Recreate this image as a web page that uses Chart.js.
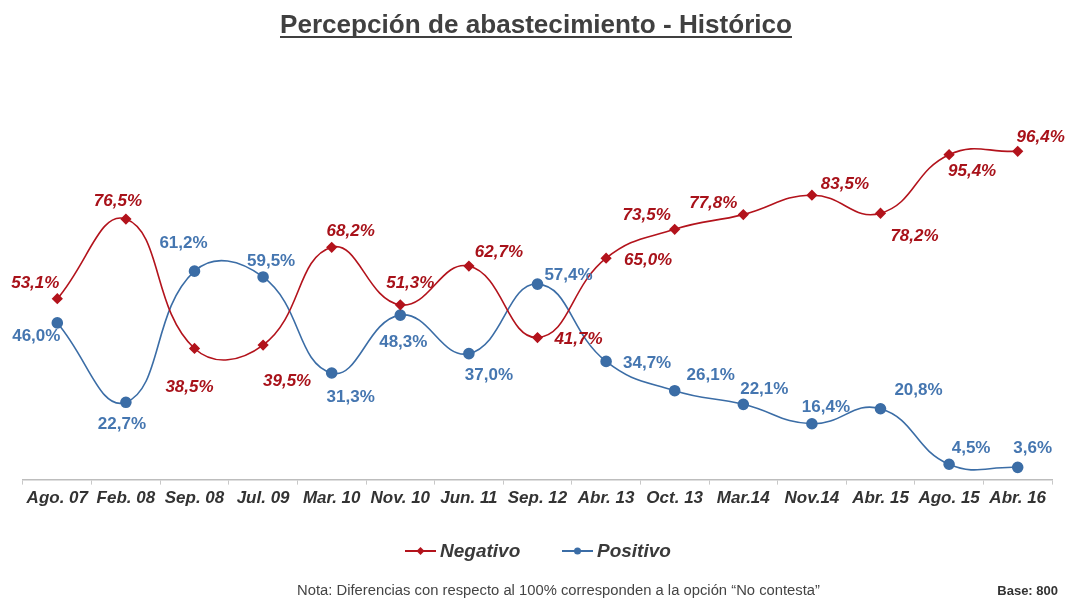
<!DOCTYPE html>
<html><head><meta charset="utf-8">
<script src="https://cdn.jsdelivr.net/npm/chart.js@4/dist/chart.umd.min.js"></script>
<style>html,body{margin:0;padding:0;background:#fff;overflow:hidden}</style>
</head><body>
<canvas id="c" width="1066" height="599"></canvas>
<script>
const categories = ['Ago. 07','Feb. 08','Sep. 08','Jul. 09','Mar. 10','Nov. 10','Jun. 11','Sep. 12','Abr. 13','Oct. 13','Mar.14','Nov.14','Abr. 15','Ago. 15','Abr. 16'];
const negativo = [53.1,76.5,38.5,39.5,68.2,51.3,62.7,41.7,65.0,73.5,77.8,83.5,78.2,95.4,96.4];
const positivo = [46.0,22.7,61.2,59.5,31.3,48.3,37.0,57.4,34.7,26.1,22.1,16.4,20.8,4.5,3.6];
const seriesNames = ['Negativo','Positivo'];
const titleText = 'Percepción de abastecimiento - Histórico';
const noteText = 'Nota: Diferencias con respecto al 100% corresponden a la opción “No contesta”';
const baseText = 'Base: 800';

// label placement offsets relative to each point (layout only)
const negOffsets = [[-22,-15],[-8,-18],[-5,39],[24,36],[19,-16],[10,-22],[30,-14],[41,2],[42,2],[-28,-14],[-30,-11],[33,-11],[34,23],[23,17],[23,-14]];
const posOffsets = [[-21,13],[-4,22],[-11,-28],[8,-16],[19,24],[3,27],[20,22],[31,-9],[41,2],[36,-15],[21,-15],[14,-16],[38,-18],[22,-16],[15,-19]];

const NEG = '#B3131C', NEG_TXT = '#A8121A';
const POS = '#3B6DA6', POS_TXT = '#4576B0';
const FONT = '"Liberation Sans", Arial, sans-serif';

function fmt(v){ return v.toFixed(1).replace('.', ',') + '%'; }

const labelsPlugin = {
  id: 'pointLabels',
  afterDatasetsDraw(chart){
    const ctx = chart.ctx;
    const cfg = [
      {offs: negOffsets, color: NEG_TXT, font: 'italic bold 17px ' + FONT},
      {offs: posOffsets, color: POS_TXT, font: 'bold 17px ' + FONT}
    ];
    chart.data.datasets.forEach((ds, di) => {
      const meta = chart.getDatasetMeta(di);
      ctx.save();
      ctx.font = cfg[di].font;
      ctx.fillStyle = cfg[di].color;
      ctx.textAlign = 'center';
      ctx.textBaseline = 'middle';
      meta.data.forEach((pt, i) => {
        const o = cfg[di].offs[i];
        ctx.fillText(fmt(ds.data[i]), pt.x + o[0], pt.y + o[1]);
      });
      ctx.restore();
    });
  }
};

const decorPlugin = {
  id: 'decor',
  afterDraw(chart){
    const ctx = chart.ctx;
    ctx.save();
    // title
    ctx.font = 'bold 25px ' + FONT;
    ctx.fillStyle = '#404040';
    ctx.textAlign = 'left';
    ctx.textBaseline = 'alphabetic';
    const tw = ctx.measureText(titleText).width;
    ctx.save();
    ctx.translate(280, 33);
    ctx.scale(512 / tw, 1);
    ctx.fillText(titleText, 0, 0);
    ctx.restore();
    ctx.fillRect(280, 36, 512, 2);

    // legend
    const items = [
      {x: 405, color: NEG, style: 'diamond'},
      {x: 562, color: POS, style: 'circle'}
    ];
    const ly = 551;
    chart.data.datasets.forEach((ds, i) => {
      const it = items[i];
      ctx.strokeStyle = it.color;
      ctx.lineWidth = 2;
      ctx.beginPath(); ctx.moveTo(it.x, ly); ctx.lineTo(it.x + 31, ly); ctx.stroke();
      ctx.fillStyle = it.color;
      const cx = it.x + 15.5;
      ctx.beginPath();
      if (it.style === 'diamond') {
        ctx.moveTo(cx, ly-4); ctx.lineTo(cx+4, ly); ctx.lineTo(cx, ly+4); ctx.lineTo(cx-4, ly);
      } else {
        ctx.arc(cx, ly, 3.5, 0, Math.PI*2);
      }
      ctx.closePath(); ctx.fill();
      ctx.font = 'italic bold 19px ' + FONT;
      ctx.fillStyle = '#3a3a3a';
      ctx.textAlign = 'left';
      ctx.textBaseline = 'middle';
      ctx.fillText(ds.label, it.x + 35, ly + 1);
    });

    // footnote
    ctx.font = '13px ' + FONT;
    ctx.fillStyle = '#444';
    ctx.textAlign = 'left';
    ctx.textBaseline = 'middle';
    const nw = ctx.measureText(noteText).width;
    ctx.save();
    ctx.translate(297, 591);
    ctx.scale(523 / nw, 1.08);
    ctx.fillText(noteText, 0, 0);
    ctx.restore();
    ctx.font = 'bold 13px ' + FONT;
    ctx.fillStyle = '#333';
    ctx.textAlign = 'right';
    ctx.fillText(baseText, 1058, 591);
    ctx.restore();
  }
};

new Chart(document.getElementById('c'), {
  type: 'line',
  data: {
    labels: categories,
    datasets: [
      {label: seriesNames[0], data: negativo, borderColor: NEG, backgroundColor: NEG,
       borderWidth: 1.6, tension: 0.45, pointStyle: 'rectRot', pointRadius: 4.5, pointHoverRadius: 4.5, clip: false},
      {label: seriesNames[1], data: positivo, borderColor: POS, backgroundColor: POS,
       borderWidth: 1.6, tension: 0.45, pointStyle: 'circle', pointRadius: 5, pointHoverRadius: 5, clip: false}
    ]
  },
  options: {
    responsive: false,
    devicePixelRatio: 1,
    animation: false,
    events: [],
    layout: {padding: {left: 23, right: 14, top: 139, bottom: 86}},
    plugins: {legend: {display: false}, title: {display: false}, tooltip: {enabled: false}},
    scales: {
      x: {
        offset: true,
        grid: {display: true, drawOnChartArea: false, drawTicks: true, tickLength: 5, color: '#c8c8c8', offset: true},
        border: {display: true, color: '#bdbdbd', width: 1.5},
        ticks: {color: '#333', font: {family: FONT, size: 17, weight: 'bold', style: 'italic'}, padding: 4, maxRotation: 0, autoSkip: false}
      },
      y: {display: false, min: 0, max: 100}
    }
  },
  plugins: [labelsPlugin, decorPlugin]
});
</script>
</body></html>
